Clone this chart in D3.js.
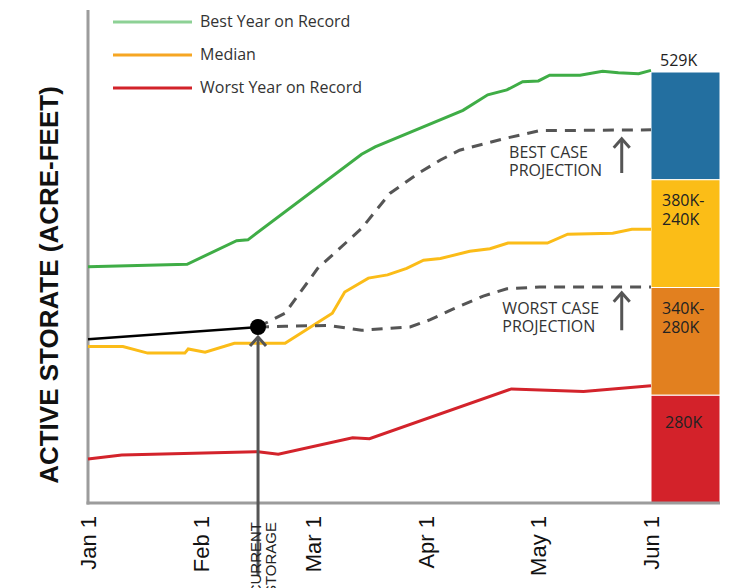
<!DOCTYPE html>
<html>
<head>
<meta charset="utf-8">
<title>Active storage projection</title>
<style>
  body { margin: 0; background: #fff; }
  svg text { font-family: "Open Sans", sans-serif; fill: #333; }
</style>
</head>
<body>
<div id="chart"></div>
<script src="https://d3js.org/d3.v7.min.js"></script>
<script>
  // month index (0 = Jan 1 ... 5 = Jun 1), storage in thousand acre-feet
  var monthLabels = ["Jan 1", "Feb 1", "Mar 1", "Apr 1", "May 1", "Jun 1"];

  var bestYear = [[0, 290], [0.88, 293], [1.32, 322], [1.42, 323], [2.43, 428], [2.55, 437],
    [3.33, 482], [3.55, 501], [3.72, 507], [3.86, 517], [4.0, 518], [4.1, 525], [4.37, 525],
    [4.57, 530], [4.71, 528], [4.89, 527], [5, 531]];

  var median = [[0, 192], [0.31, 192], [0.53, 184], [0.86, 184], [0.89, 189], [1.04, 185],
    [1.3, 196], [1.75, 196], [2.17, 233], [2.28, 259], [2.49, 276], [2.66, 280], [2.83, 288],
    [2.98, 298], [3.13, 300], [3.39, 309], [3.57, 312], [3.73, 319], [4.08, 319], [4.26, 330],
    [4.66, 331], [4.83, 336], [5, 336]];

  var worstYear = [[0, 54], [0.3, 59], [1.51, 63], [1.69, 60], [2.35, 80], [2.5, 79],
    [3.76, 140], [4.4, 137], [5, 144]];

  var observed = [[0, 201], [1.51, 216]];
  var current = [1.51, 216];

  var bestCase = [[1.51, 216], [1.75, 233], [2.04, 288], [2.43, 337], [2.68, 380], [2.95, 406],
    [3.13, 421], [3.3, 433], [3.72, 448], [4.01, 457], [5, 458]];

  var worstCase = [[1.51, 216], [1.75, 217], [2.13, 218], [2.43, 212], [2.86, 216], [3.04, 225],
    [3.24, 238], [3.51, 254], [3.72, 263], [4.01, 265], [5, 265]];

  var legendNames = ["Best Year on Record", "Median", "Worst Year on Record"];
  var legendColors = ["#8dd195", "#f6a623", "#d2232a"];

  var barLabels = [[], ["380K-", "240K"], ["340K-", "280K"], ["280K"]];
  var barColors = ["#236fa0", "#fbbd17", "#e2801f", "#d3222a"];
  var barTop = "529K";

  var width = 729, height = 588;

  var svg = d3.select("#chart")
    .append("svg")
    .attr("width", width)
    .attr("height", height);

  var x = d3.scaleLinear()
    .domain([0, 5])
    .range([88, 651]);

  var y = d3.scaleLinear()
    .domain([0, 529])
    .range([503, 72]);

  var line = d3.line()
    .x(function (d) { return x(d[0]); })
    .y(function (d) { return y(d[1]); });

  // bar on the right
  var band = d3.scaleBand()
    .domain(d3.range(barColors.length))
    .range([y(529), y(0)]);

  svg.append("g")
    .selectAll("rect")
    .data(barColors)
    .enter()
    .append("rect")
    .attr("x", x(5))
    .attr("y", function (d, i) { return band(i); })
    .attr("width", 69)
    .attr("height", band.bandwidth())
    .attr("fill", function (d) { return d; })
    .attr("stroke", "#fff")
    .attr("stroke-width", 1);

  barLabels.forEach(function (lines, i) {
    lines.forEach(function (t, j) {
      svg.append("text")
        .attr("x", x(5) + (lines.length > 1 ? 11 : 14))
        .attr("y", band(i) + (lines.length > 1 ? 26 : 33) + j * 19)
        .style("font-size", "16px")
        .style("fill", "#222")
        .text(t);
    });
  });

  svg.append("text")
    .attr("x", x(5) + 9)
    .attr("y", y(529) - 6)
    .style("font-size", "16px")
    .style("fill", "#222")
    .text(barTop);

  // axes lines
  svg.append("line")
    .attr("x1", 88).attr("x2", 88)
    .attr("y1", 10).attr("y2", y(0) + 1.5)
    .attr("stroke", "#9c9c9c").attr("stroke-width", 3);
  svg.append("line")
    .attr("x1", 86.5).attr("x2", 720)
    .attr("y1", y(0)).attr("y2", y(0))
    .attr("stroke", "#9c9c9c").attr("stroke-width", 3);

  // month labels
  svg.append("g")
    .selectAll("text")
    .data(monthLabels)
    .enter()
    .append("text")
    .attr("transform", function (d, i) { return "translate(" + x(i) + ",516) rotate(-90)"; })
    .attr("dy", "0.36em")
    .attr("text-anchor", "end")
    .style("font-family", "'Liberation Sans', Arial, sans-serif")
    .style("font-size", "22px")
    .style("fill", "#111")
    .text(function (d) { return d; });

  // y axis title
  svg.append("text")
    .attr("transform", "translate(58," + 285 + ") rotate(-90)")
    .attr("text-anchor", "middle")
    .style("font-family", "'Liberation Sans', Arial, sans-serif")
    .style("font-weight", "bold")
    .style("font-size", "26px")
    .style("fill", "#111")
    .text("ACTIVE STORATE (ACRE-FEET)");

  // series
  svg.append("path").datum(bestYear).attr("d", line)
    .attr("fill", "none").attr("stroke", "#3fad46").attr("stroke-width", 3);
  svg.append("path").datum(median).attr("d", line)
    .attr("fill", "none").attr("stroke", "#fbbc18").attr("stroke-width", 3);
  svg.append("path").datum(worstYear).attr("d", line)
    .attr("fill", "none").attr("stroke", "#d3232b").attr("stroke-width", 3);

  svg.append("path").datum(bestCase).attr("d", line)
    .attr("fill", "none").attr("stroke", "#555").attr("stroke-width", 3)
    .attr("stroke-dasharray", "11,8");
  svg.append("path").datum(worstCase).attr("d", line)
    .attr("fill", "none").attr("stroke", "#555").attr("stroke-width", 3)
    .attr("stroke-dasharray", "11,8");

  svg.append("path").datum(observed).attr("d", line)
    .attr("fill", "none").attr("stroke", "#000").attr("stroke-width", 2.5);

  // arrows
  function arrowUp(cx, top, bottom) {
    svg.append("line")
      .attr("x1", cx).attr("x2", cx)
      .attr("y1", top + 1).attr("y2", bottom)
      .attr("stroke", "#555").attr("stroke-width", 3);
    svg.append("path")
      .attr("d", "M" + (cx - 8) + "," + (top + 9) + "L" + cx + "," + top + "L" + (cx + 8) + "," + (top + 9))
      .attr("fill", "none").attr("stroke", "#555").attr("stroke-width", 3);
  }

  arrowUp(x(current[0]), y(current[1]) + 10, 576);
  arrowUp(x(4.74), y(447), y(405));
  arrowUp(x(4.74), y(258), y(212));

  svg.append("circle")
    .attr("cx", x(current[0]))
    .attr("cy", y(current[1]))
    .attr("r", 8)
    .attr("fill", "#000");

  ["CURRENT", "STORAGE"].forEach(function (t, i) {
    svg.append("text")
      .attr("transform", "translate(" + (x(current[0]) + 3 + i * 15) + ",522) rotate(-90)")
      .attr("text-anchor", "end")
      .style("font-family", "'Liberation Sans', Arial, sans-serif")
      .style("font-size", "15px")
      .style("fill", "#222")
      .text(t);
  });

  // projection labels
  var notes = [
    { m: 3.74, v: 423, lines: ["BEST CASE", "PROJECTION"] },
    { m: 3.68, v: 232, lines: ["WORST CASE", "PROJECTION"] }
  ];
  notes.forEach(function (n) {
    n.lines.forEach(function (t, j) {
      svg.append("text")
        .attr("x", x(n.m))
        .attr("y", y(n.v) + j * 18)
        .style("font-size", "16px")
        .style("fill", "#333")
        .text(t);
    });
  });

  // legend
  var legend = svg.append("g");
  legendNames.forEach(function (name, i) {
    legend.append("line")
      .attr("x1", 113).attr("x2", 192)
      .attr("y1", 22 + i * 33).attr("y2", 22 + i * 33)
      .attr("stroke", legendColors[i]).attr("stroke-width", 3);
    legend.append("text")
      .attr("x", 200)
      .attr("y", 27 + i * 33)
      .style("font-size", "16px")
      .style("fill", "#333")
      .text(name);
  });
</script>
</body>
</html>
